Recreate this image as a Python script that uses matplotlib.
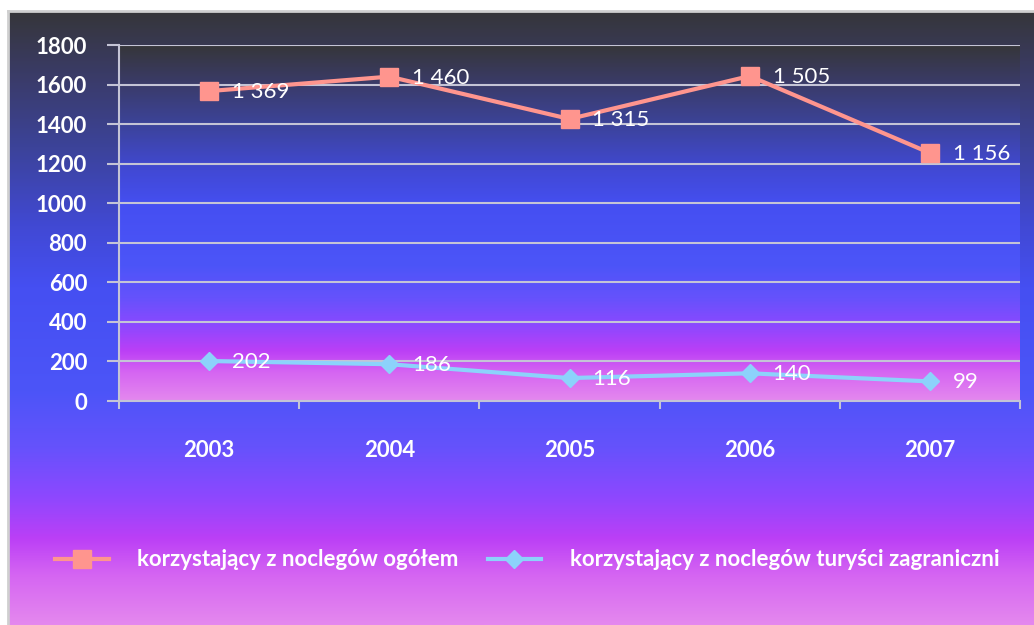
import numpy as np
import matplotlib
matplotlib.use('Agg')
import matplotlib.pyplot as plt
from matplotlib.colors import LinearSegmentedColormap
from matplotlib.lines import Line2D

years = ['2003', '2004', '2005', '2006', '2007']
# positions of the pink markers as drawn in the picture
total_plotted = [1567, 1640, 1426, 1643, 1254]
total_labels = ['1 369', '1 460', '1 315', '1 505', '1 156']
foreign = [202, 186, 116, 140, 99]
foreign_labels = ['202', '186', '116', '140', '99']
series_names = ['korzystający z noclegów ogółem',
                'korzystający z noclegów turyści zagraniczni']

pink = '#ff958e'
cyan = '#8cd2fb'
grid_col = '#c4c4d6'

stops = [(0.0, '#36363a'), (0.1, '#3a3b66'), (0.22, '#3c4399'),
         (0.35, '#4149d4'), (0.45, '#454ff2'), (0.62, '#4c55f8'),
         (0.71, '#6552fc'), (0.79, '#8c48ff'), (0.86, '#bb3ff6'),
         (0.92, '#d565f2'), (1.0, '#e488ee')]
cmap = LinearSegmentedColormap.from_list('bg', stops)
grad = np.linspace(0, 1, 256).reshape(-1, 1)

plt.rcParams['font.family'] = ['Lato', 'DejaVu Sans']

fig = plt.figure(figsize=(10.34, 6.25), dpi=100, facecolor='white')
W, H = 1034, 625

# chart background with frame
bg = fig.add_axes([8 / W, 0, 1 - 8 / W, 1 - 11 / H])
bg.imshow(grad, aspect='auto', cmap=cmap, extent=[0, 1, 1, 0])
bg.set_xlim(0, 1)
bg.set_ylim(1, 0)
bg.set_xticks([])
bg.set_yticks([])
for side, s in bg.spines.items():
    s.set_color('#cfcfcf')
    s.set_linewidth(2)
    if side in ('right', 'bottom'):
        s.set_visible(False)

ax = fig.add_axes([119 / W, 1 - 401 / H, 901 / W, 356 / H])
ax.imshow(grad, aspect='auto', cmap=cmap, extent=[-0.5, 4.5, 0, 1800],
          origin='upper', zorder=0)
ax.set_xlim(-0.5, 4.5)
ax.set_ylim(0, 1800)

x = np.arange(len(years))
ax.plot(x, total_plotted, color=pink, lw=3, marker='s', ms=13, zorder=3)
ax.plot(x, foreign, color=cyan, lw=3, marker='D', ms=9, zorder=3)

for xi, yi, lab in zip(x, total_plotted, total_labels):
    ax.annotate(lab, (xi, yi), xytext=(23, -1), textcoords='offset pixels',
                va='center', ha='left', color='white', fontsize=16, zorder=4)
for xi, yi, lab in zip(x, foreign, foreign_labels):
    ax.annotate(lab, (xi, yi), xytext=(23, -1), textcoords='offset pixels',
                va='center', ha='left', color='white', fontsize=16, zorder=4)

ax.set_yticks(range(0, 1801, 200))
ax.yaxis.grid(True, color=grid_col, lw=1.5, zorder=1)
ax.set_axisbelow(False)
ax.set_xticks(x)
ax.set_xticklabels(years, fontweight='bold')
ax.set_xticks(np.arange(-0.5, 4.6, 1), minor=True)
ax.tick_params(axis='x', which='major', length=0, pad=28, labelsize=16,
               labelcolor='white')
ax.tick_params(axis='x', which='minor', length=6, width=1.5, color=grid_col,
               direction='out')
ax.tick_params(axis='y', length=9, width=1.5, color=grid_col, pad=14,
               labelsize=16, labelcolor='white')
for lab in ax.get_yticklabels():
    lab.set_fontweight('bold')
for side in ['top', 'right']:
    ax.spines[side].set_visible(False)
for side in ['left', 'bottom']:
    ax.spines[side].set_color(grid_col)
    ax.spines[side].set_linewidth(1.5)

handles = [Line2D([], [], color=pink, lw=3, marker='s', ms=13),
           Line2D([], [], color=cyan, lw=3, marker='D', ms=9)]
fig.legend(handles, series_names, loc='center', bbox_to_anchor=(0.51, 1 - 560 / H),
           ncol=2, frameon=False, labelcolor='white',
           prop={'family': ['Lato', 'DejaVu Sans'], 'weight': 'bold', 'size': 16},
           handlelength=2.4, handletextpad=1.3, columnspacing=1.3)

fig.savefig('out.png', dpi=100, facecolor='white')
